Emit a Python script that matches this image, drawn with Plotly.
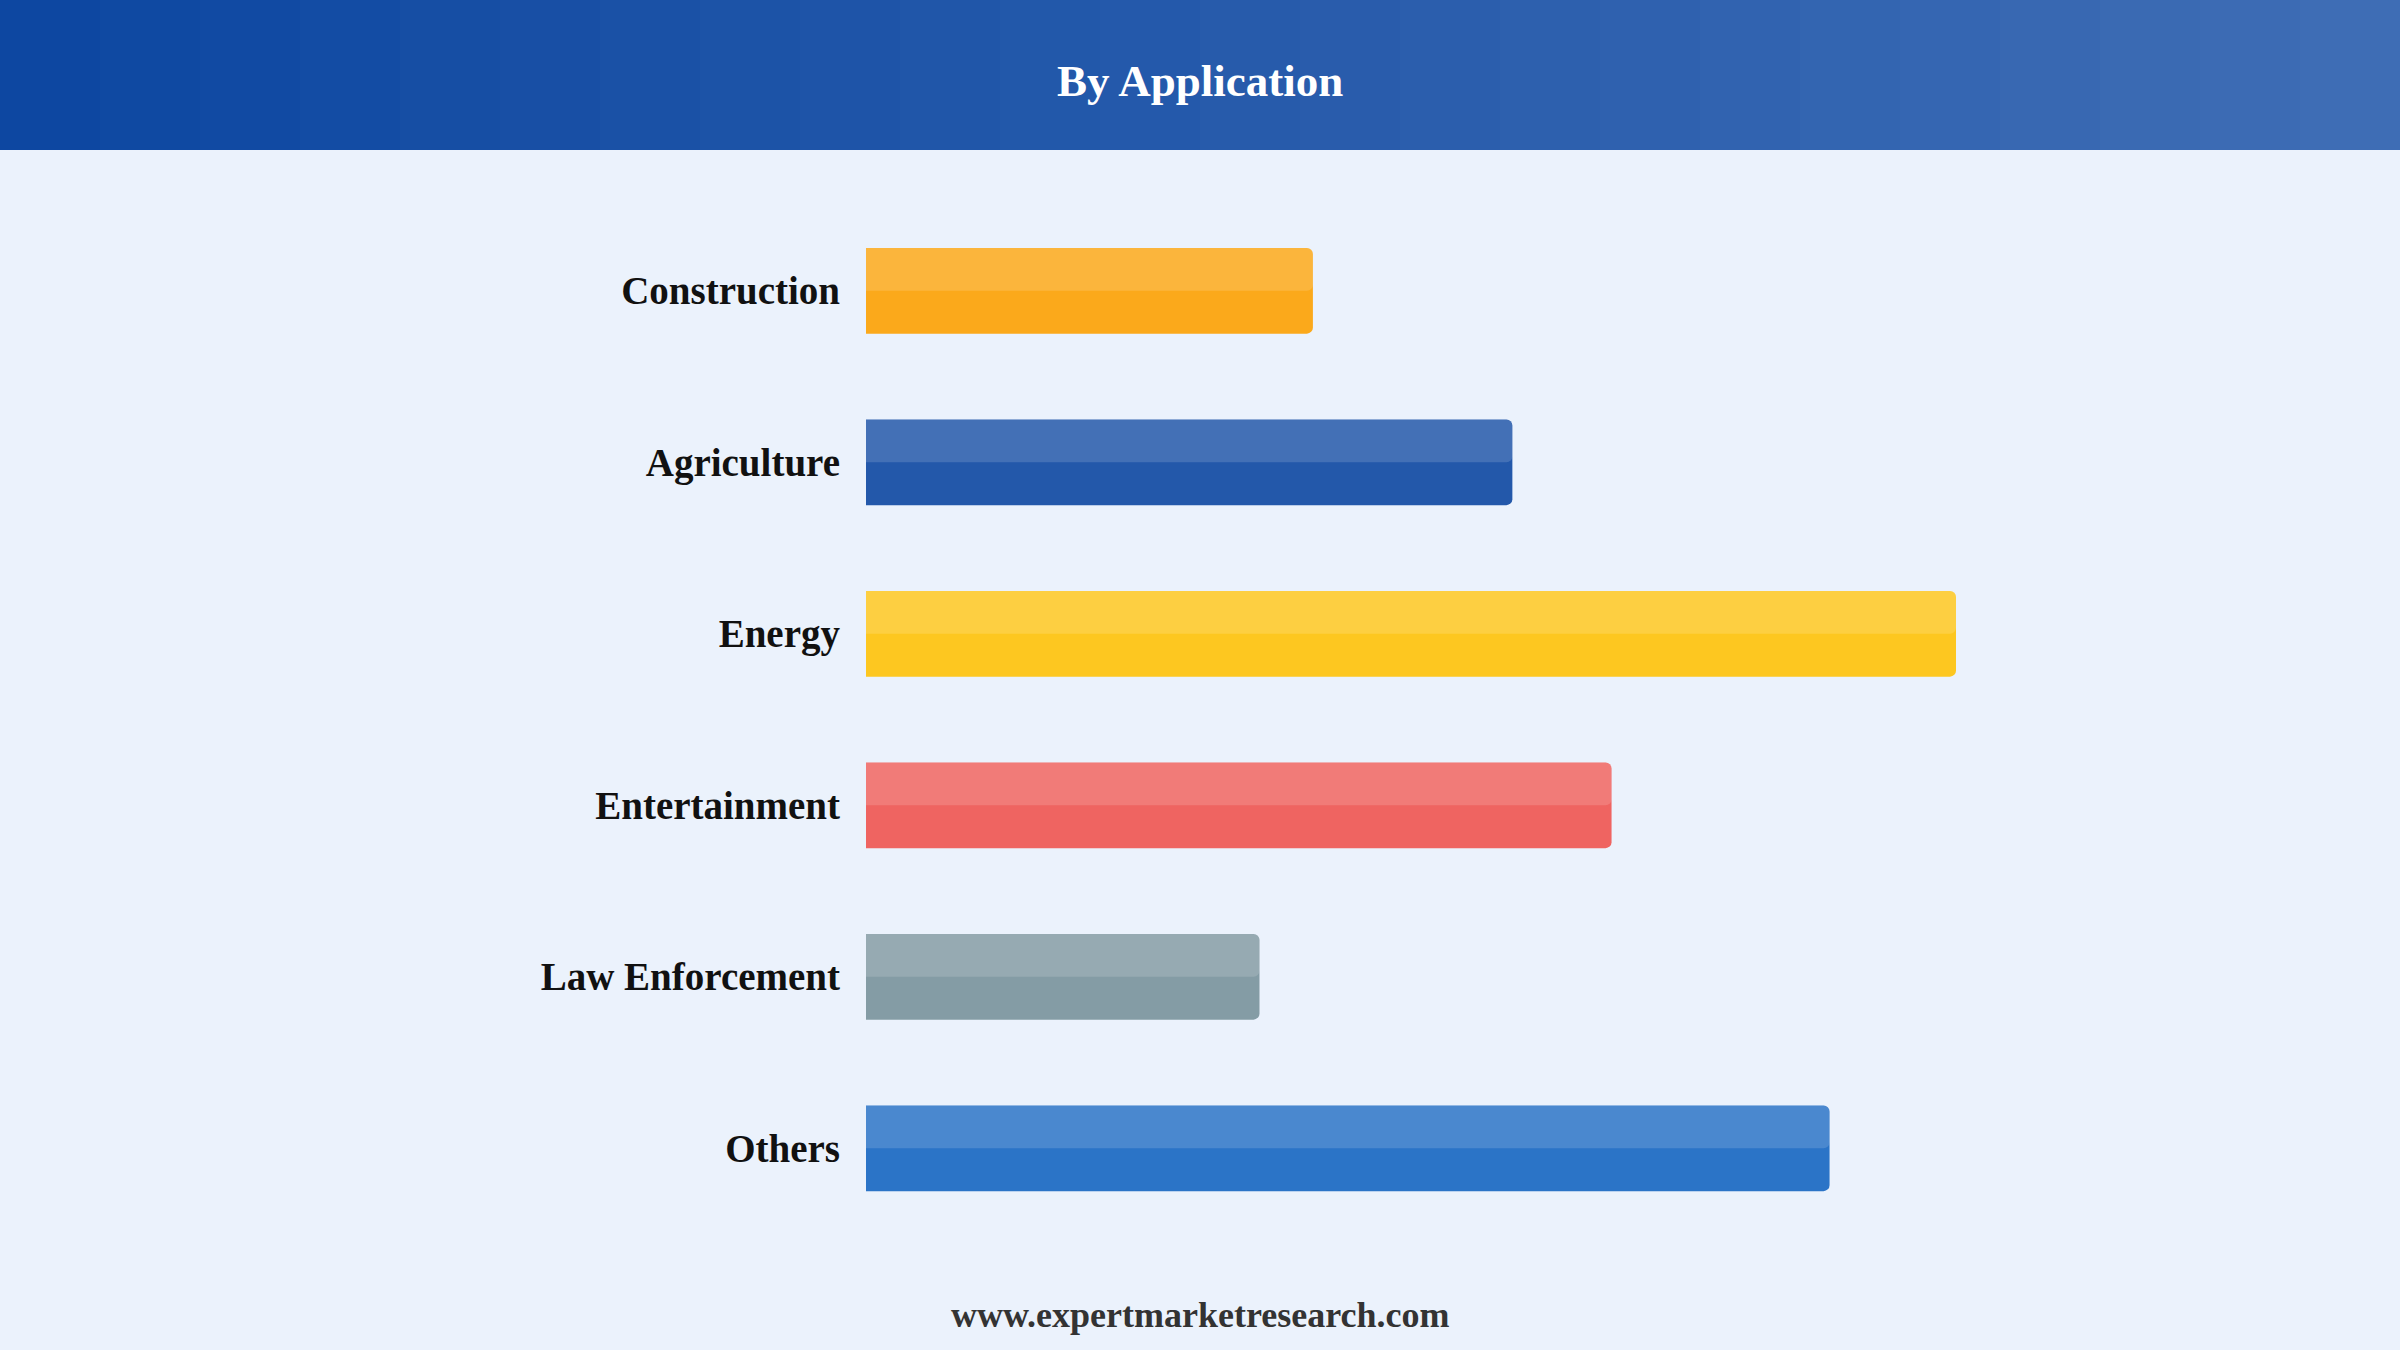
import plotly.graph_objects as go

# bar lengths (Energy = 100)
applications = ["Construction", "Agriculture", "Energy", "Entertainment", "Law Enforcement", "Others"]
values = [41.0, 59.3, 100.0, 68.4, 36.1, 88.4]
bar_colors = ["#FBA91B", "#2358AA", "#FDC720", "#EF6461", "#849CA5", "#2B74C7"]

W, H = 2400, 1350
ML, MR, MT, MB = 866, 444, 205, 116

fig = go.Figure()

# main bars
fig.add_trace(go.Bar(
    y=applications, x=values, orientation="h",
    marker=dict(color=bar_colors, line=dict(width=0), cornerradius=6),
    width=0.5, offset=-0.25, hoverinfo="skip",
))
# lighter top half
fig.add_trace(go.Bar(
    y=applications, x=values, orientation="h",
    marker=dict(color="rgba(255,255,255,0.15)", line=dict(width=0), cornerradius=6),
    width=0.25, offset=-0.25, hoverinfo="skip",
))

# header band: stepped horizontal gradient, like the original
def px_to_paper_x(px):
    return (px - ML) / (W - ML - MR)

def px_to_paper_y(py):
    return 1 + (MT - py) / (H - MT - MB)

c0 = (13, 71, 161)
c1 = (62, 109, 181)
steps = 24
shapes = []
for i in range(steps):
    t = i / (steps - 1)
    col = tuple(round(a + (b - a) * t) for a, b in zip(c0, c1))
    shapes.append(dict(
        type="rect", xref="paper", yref="paper", layer="below",
        x0=px_to_paper_x(W * i / steps), x1=px_to_paper_x(W * (i + 1) / steps + 1),
        y0=px_to_paper_y(150), y1=px_to_paper_y(0),
        fillcolor="rgb(%d,%d,%d)" % col, line=dict(width=0),
    ))

fig.update_layout(
    width=W, height=H,
    margin=dict(l=ML, r=MR, t=MT, b=MB),
    paper_bgcolor="#EBF2FC",
    plot_bgcolor="#EBF2FC",
    barmode="overlay",
    showlegend=False,
    shapes=shapes,
    font=dict(family="Liberation Serif, Times New Roman, serif"),
)

fig.update_xaxes(range=[0, 100], showgrid=False, zeroline=False,
                 showticklabels=False, fixedrange=True)
fig.update_yaxes(autorange="reversed", showgrid=False, zeroline=False,
                 ticks="", ticklabelstandoff=25, fixedrange=True,
                 tickfont=dict(size=39, color="#111111", weight="bold"))

fig.add_annotation(text="<b>By Application</b>", xref="paper", yref="paper",
                   x=px_to_paper_x(1200), y=px_to_paper_y(81),
                   xanchor="center", yanchor="middle", showarrow=False,
                   font=dict(size=45, color="white"))

fig.add_annotation(text="<b>www.expertmarketresearch.com</b>", xref="paper", yref="paper",
                   x=px_to_paper_x(1200), y=px_to_paper_y(1315),
                   xanchor="center", yanchor="middle", showarrow=False,
                   font=dict(size=36, color="#333333"))

fig.write_html("out.html", config={"displayModeBar": False},
               post_script="document.body.style.margin='0px';document.body.style.overflow='hidden';")
